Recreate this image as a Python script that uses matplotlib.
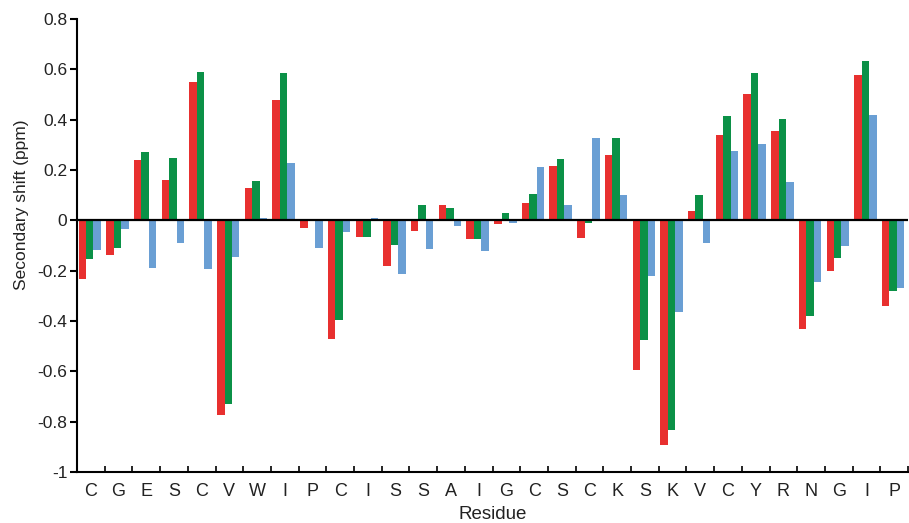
import matplotlib
matplotlib.use("Agg")
import matplotlib.pyplot as plt
import numpy as np

plt.rcParams['font.family'] = ['Liberation Sans', 'DejaVu Sans']

residues = ["C", "G", "E", "S", "C", "V", "W", "I", "P", "C", "I", "S", "S", "A", "I",
            "G", "C", "S", "C", "K", "S", "K", "V", "C", "Y", "R", "N", "G", "I", "P"]

red_vals = [-0.233, -0.139, 0.238, 0.162, 0.551, -0.772, 0.130, 0.479, -0.030, -0.470,
            -0.067, -0.181, -0.041, 0.060, -0.075, -0.015, 0.069, 0.217, -0.070, 0.258,
            -0.593, -0.894, 0.038, 0.340, 0.503, 0.354, -0.433, -0.201, 0.577, -0.339]
green_vals = [-0.154, -0.110, 0.270, 0.248, 0.589, -0.728, 0.155, 0.585, 0.0, -0.397,
              -0.068, -0.098, 0.060, 0.050, -0.075, 0.030, 0.103, 0.242, -0.012, 0.327,
              -0.475, -0.834, 0.099, 0.413, 0.584, 0.401, -0.379, -0.148, 0.632, -0.281]
blue_vals = [-0.117, -0.034, -0.189, -0.091, -0.192, -0.147, 0.011, 0.229, -0.110, -0.045,
             0.009, -0.215, -0.114, -0.023, -0.123, -0.009, 0.211, 0.062, 0.327, 0.099,
             -0.222, -0.366, -0.090, 0.277, 0.302, 0.154, -0.244, -0.103, 0.420, -0.270]

colors = ["#e8302f", "#0b9147", "#6a9fd4"]

fig = plt.figure(figsize=(9.09, 5.23), dpi=100)
ax = fig.add_axes([0.0847, 0.0975, 0.9143, 0.8662])

x = np.arange(len(residues))
w = 0.27
off = -0.04
for k, (vals, c) in enumerate(zip([red_vals, green_vals, blue_vals], colors)):
    ax.bar(x + off + (k - 1) * w, vals, width=w, color=c, linewidth=0, zorder=2)

ax.axhline(0, color="black", linewidth=1.6, zorder=3)

ax.set_xlim(-0.5, len(residues) - 0.5)
ax.set_ylim(-1, 0.8)
ax.set_yticks([-1, -0.8, -0.6, -0.4, -0.2, 0, 0.2, 0.4, 0.6, 0.8])
ax.set_yticklabels(["-1", "-0.8", "-0.6", "-0.4", "-0.2", "0", "0.2", "0.4", "0.6", "0.8"])

ax.set_xticks(x)
ax.set_xticklabels(residues)
ax.set_xticks(np.arange(len(residues) + 1) - 0.5, minor=True)
ax.tick_params(axis="x", which="major", length=0, labelsize=13, pad=8, labelcolor="#222222")
ax.tick_params(axis="x", which="minor", direction="in", length=4, width=1.2)
ax.tick_params(axis="y", direction="out", length=5, width=1.5, labelsize=12.5, pad=2,
               labelcolor="#222222")

for s in ["top", "right"]:
    ax.spines[s].set_visible(False)
for s in ["left", "bottom"]:
    ax.spines[s].set_linewidth(1.5)

ax.set_ylabel("Secondary shift (ppm)", fontsize=12.5, color="#222222", va="center")
ax.yaxis.set_label_coords(-0.067, 0.59)
ax.set_xlabel("Residue", fontsize=13.5, labelpad=4, color="#222222")

fig.savefig("out.png", dpi=100)
